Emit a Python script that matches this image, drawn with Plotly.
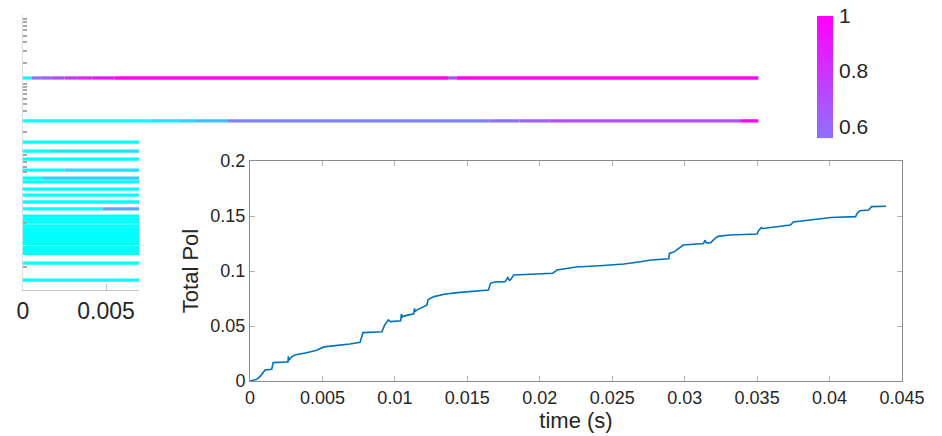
import plotly.graph_objects as go

W, H = 942, 436
FONT = "Liberation Sans, Arial, sans-serif"
TXT = "#262626"

# ---- Total polarisation vs time ----
time_s = [0, 0.00046, 0.00069, 0.00087, 0.00104, 0.0015, 0.0016, 0.00253, 0.00262,
          0.00265, 0.00268, 0.00288, 0.0031, 0.0039, 0.0046, 0.0051, 0.006, 0.0069,
          0.0076, 0.0077, 0.0078, 0.0091, 0.0093, 0.00955, 0.0097, 0.0104, 0.01045,
          0.0105, 0.0106, 0.0113, 0.01135, 0.0114, 0.0115, 0.0122, 0.0123, 0.0127,
          0.0134, 0.0143, 0.0152, 0.01646, 0.0166, 0.0169, 0.0176, 0.0178, 0.0179,
          0.018, 0.0182, 0.0191, 0.0209, 0.0212, 0.0225, 0.0244, 0.0258, 0.0267,
          0.0277, 0.0289, 0.02895, 0.0293, 0.0296, 0.0299, 0.0313, 0.0314, 0.0315,
          0.0318, 0.0321, 0.0323, 0.0331, 0.035, 0.0351, 0.0353, 0.0354, 0.0373,
          0.0375, 0.0396, 0.0401, 0.0418, 0.0419, 0.0421, 0.0427, 0.0429, 0.0439]
total_pol = [0, 0.0015, 0.004, 0.007, 0.010, 0.0106, 0.0167, 0.0173, 0.0173,
             0.0225, 0.019, 0.022, 0.0236, 0.0257, 0.028, 0.031, 0.032, 0.0336,
             0.0352, 0.0403, 0.044, 0.0448, 0.051, 0.0555, 0.054, 0.0548, 0.061,
             0.058, 0.059, 0.061, 0.066, 0.063, 0.0645, 0.069, 0.074, 0.0767,
             0.0788, 0.0803, 0.0812, 0.0827, 0.0888, 0.090, 0.0903, 0.094, 0.0915,
             0.0924, 0.0964, 0.097, 0.098, 0.101, 0.1036, 0.105, 0.1064, 0.108,
             0.110, 0.1112, 0.116, 0.1176, 0.1206, 0.1236, 0.125, 0.128, 0.1255,
             0.1258, 0.1297, 0.1315, 0.1327, 0.1336, 0.1366, 0.1395, 0.1386, 0.1418,
             0.1445, 0.1479, 0.1487, 0.1494, 0.1524, 0.1548, 0.1555, 0.1585, 0.1588]
time_ticks = [0, 0.005, 0.01, 0.015, 0.02, 0.025, 0.03, 0.035, 0.04, 0.045]
time_tick_text = ["0", "0.005", "0.01", "0.015", "0.02", "0.025", "0.03", "0.035", "0.04", "0.045"]
pol_ticks = [0, 0.05, 0.1, 0.15, 0.2]
pol_tick_text = ["0", "0.05", "0.1", "0.15", "0.2"]

# ---- Raster of unit activity: level, end time, colour-value change points ----
row_level = [77.1, 61.5, 53.8, 50.5, 47.6, 43.6, 40.7, 39.3, 36.7, 34.5, 32.0, 29.5,
             26.9, 25.8, 24.7, 23.3, 22.2, 21.3, 20.2, 19.1, 18.0, 16.9, 15.5, 14.4,
             13.3, 9.8, 3.6]
row_end = [0.0443, 0.0443] + [0.007] * 25
row_steps = [
    [(0, 0.0), (0.00054, 0.55), (0.0011, 0.62), (0.0017, 0.7), (0.0025, 0.78),
     (0.0033, 0.86), (0.0042, 0.93), (0.0055, 1.0), (0.0256, 0.7), (0.0261, 1.0)],
    [(0, 0.0), (0.0077, 0.08), (0.00946, 0.15), (0.01036, 0.25), (0.01235, 0.5),
     (0.0281, 0.55), (0.0299, 0.62), (0.0317, 0.7), (0.0432, 1.0)],
    [(0, 0.0)],
    [(0, 0.0), (0.0016, 0.1)],
    [(0, 0.0)],
    [(0, 0.0), (0.0025, 0.12)],
    [(0, 0.0), (0.0012, 0.2)],
    [(0, 0.0)], [(0, 0.0)], [(0, 0.0)], [(0, 0.0)],
    [(0, 0.0), (0.0048, 0.33)],
] + [[(0, 0.0)]] * 15
raster_yticks = [98.5, 97.3, 96.1, 94.4, 92.4, 90.1, 86.8, 82.4, 75.0, 73.7, 72.7,
                 71.2, 69.6, 67.6, 65.2, 57.6, 49.1, 46.5, 44.7, 42.9, 24.4, 8.2]
raster_xticks = [0, 0.005]
raster_xtick_text = ["0", "0.005"]

# colour axis limits and colourbar labels
c_low, c_high = 0.556, 1.0
cbar_ticks = [0.6, 0.8, 1.0]
cbar_tick_text = ["0.6", "0.8", "1"]
CBAR_STEPS = 120


def cool(v):
    v = min(max(v, 0.0), 1.0)
    return "rgb(%d,%d,255)" % (round(255 * v), round(255 * (1 - v)))


def fx(px):
    return px / W


def fy(py):
    return 1 - py / H


PX_PER_S = 16600.0  # horizontal scale shared by the raster panels
raster_left, raster_right = 23, 139.2
long_right = 800
raster_dom_y = [fy(290), fy(15)]
raster_range_y = [0, 100]

fig = go.Figure()

# raster rows: short ones on the small axes, long ones on a wider hidden axes
for lvl, end, steps in zip(row_level, row_end, row_steps):
    long_row = end > 0.0071
    for i, (t0, v) in enumerate(steps):
        t1 = steps[i + 1][0] if i + 1 < len(steps) else end
        fig.add_trace(go.Scatter(
            x=[t0, t1], y=[lvl, lvl], mode="lines",
            line=dict(color=cool(v), width=3.3),
            xaxis="x2" if long_row else "x", yaxis="y2" if long_row else "y",
            hoverinfo="skip", showlegend=False))

# colour bar drawn as a one-column heatmap on its own small axes
cb_vals = [c_low + (c_high - c_low) * k / (CBAR_STEPS - 1) for k in range(CBAR_STEPS)]
fig.add_trace(go.Heatmap(
    x=[0], y=cb_vals, z=[[v] for v in cb_vals], zmin=c_low, zmax=c_high,
    colorscale=[[0, cool(c_low)], [1, cool(c_high)]], showscale=False,
    xaxis="x4", yaxis="y4", hoverinfo="skip"))

# main curve
fig.add_trace(go.Scatter(
    x=time_s, y=total_pol, mode="lines", xaxis="x3", yaxis="y3",
    line=dict(color="#0072BD", width=1.6), hoverinfo="skip", showlegend=False))

axis_common = dict(showgrid=False, zeroline=False, automargin=False)

fig.update_layout(
    width=W, height=H, margin=dict(l=0, r=0, t=0, b=0, autoexpand=False),
    paper_bgcolor="white", plot_bgcolor="rgba(0,0,0,0)",
    font=dict(family=FONT, color=TXT),
    showlegend=False,
    xaxis=dict(domain=[fx(raster_left), fx(raster_right)],
               range=[0, (raster_right - raster_left) / PX_PER_S],
               anchor="y", showline=True, linecolor="#c4c4c4", linewidth=1,
               ticks="inside", ticklen=6, tickcolor="#c4c4c4",
               tickvals=raster_xticks, ticktext=raster_xtick_text,
               tickfont=dict(size=23, color=TXT), **axis_common),
    yaxis=dict(domain=raster_dom_y, range=raster_range_y, anchor="x",
               showline=True, linecolor="#dcdcdc", linewidth=1,
               ticks="inside", ticklen=4, tickwidth=1.5, tickcolor="#a8a8a8",
               tickvals=raster_yticks, showticklabels=False, **axis_common),
    xaxis2=dict(domain=[fx(raster_left), fx(long_right)],
                range=[0, (long_right - raster_left) / PX_PER_S],
                anchor="y2", visible=False, **axis_common),
    yaxis2=dict(domain=raster_dom_y, range=raster_range_y, anchor="x2",
                visible=False, **axis_common),
    xaxis3=dict(domain=[fx(250), fx(902)], range=[0, 0.045], anchor="y3",
                showline=True, linecolor="#8c8c8c", linewidth=1, mirror="ticks",
                ticks="inside", ticklen=5, tickcolor="#b4b4b4",
                tickvals=time_ticks, ticktext=time_tick_text,
                tickfont=dict(size=18, color=TXT),
                title=dict(text="time (s)", font=dict(size=22, color=TXT), standoff=6),
                **axis_common),
    yaxis3=dict(domain=[fy(381), fy(161)], range=[0, 0.2], anchor="x3",
                showline=True, linecolor="#8c8c8c", linewidth=1, mirror="ticks",
                ticks="inside", ticklen=5, tickcolor="#b4b4b4",
                tickvals=pol_ticks, ticktext=pol_tick_text,
                tickfont=dict(size=18, color=TXT),
                title=dict(text="Total Pol", font=dict(size=22, color=TXT), standoff=5),
                **axis_common),
    xaxis4=dict(domain=[fx(817), fx(833)], range=[-0.5, 0.5], anchor="y4",
                visible=False, **axis_common),
    yaxis4=dict(domain=[fy(138.3), fy(16)], range=[c_low, c_high], anchor="x4",
                side="right", showline=False, ticks="", ticklabelstandoff=5,
                tickvals=cbar_ticks, ticktext=cbar_tick_text,
                tickfont=dict(size=21, color=TXT), **axis_common),
)

fig.write_html("out.html")
